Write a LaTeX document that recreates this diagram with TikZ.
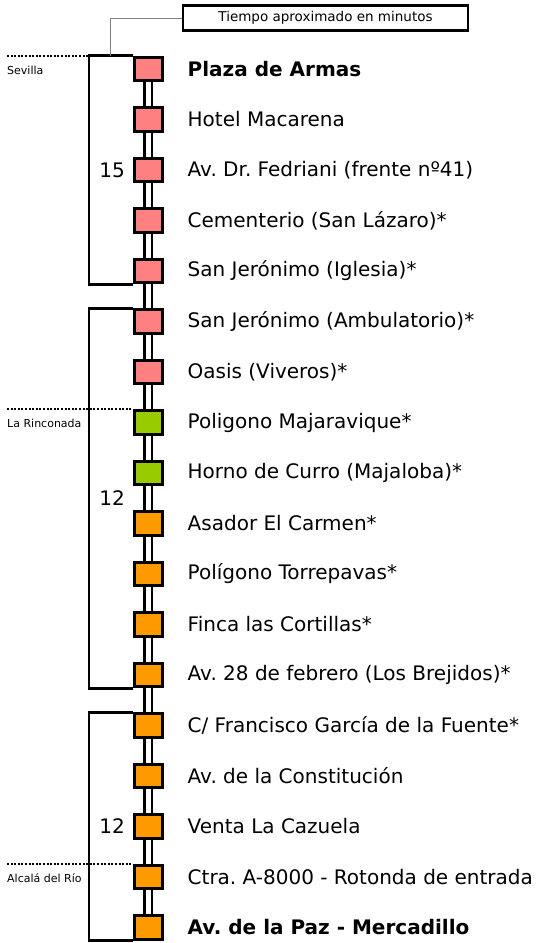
\documentclass[tikz,border=0pt]{standalone}
\usepackage{fontspec}
\setmainfont{DejaVu Sans}
\usetikzlibrary{calc}
\definecolor{stpink}{RGB}{255,128,128}
\definecolor{stgreen}{RGB}{153,204,0}
\definecolor{storange}{RGB}{255,153,0}
\frenchspacing
\begin{document}
\begin{tikzpicture}[x=1pt,y=-1pt,
  stop/.style={draw=black,line width=3pt,minimum width=28pt,minimum height=23.5pt,inner sep=0pt},
  ps/.style={stop,fill=stpink},
  gs/.style={stop,fill=stgreen},
  os/.style={stop,fill=storange},
  lbl/.style={anchor=west,inner sep=0pt,font=\fontsize{20}{24}\selectfont},
  blbl/.style={lbl,font=\fontsize{20}{24}\selectfont\bfseries},
  rail/.style={double distance=5pt,line width=2.2pt},
  bracket/.style={line width=2.8pt},
  dotline/.style={line width=2pt,dash pattern=on 2pt off 1.6pt},
  town/.style={anchor=west,inner sep=0pt,font=\fontsize{11}{13}\selectfont},
  mins/.style={anchor=east,inner sep=0pt,font=\fontsize{20}{24}\selectfont},
  leader/.style={draw=gray,line width=1pt}]
\useasboundingbox (0,0) rectangle (542,943);
% stops
\node[ps] (s0) at (148,69) {};
\node[ps] (s1) at (148,119.5) {};
\node[ps] (s2) at (148,170) {};
\node[ps] (s3) at (148,220.5) {};
\node[ps] (s4) at (148,271) {};
\node[ps] (s5) at (148,321.5) {};
\node[ps] (s6) at (148,372) {};
\node[gs] (s7) at (148,422.5) {};
\node[gs] (s8) at (148,473) {};
\node[os] (s9) at (148,523.5) {};
\node[os] (s10) at (148,574) {};
\node[os] (s11) at (148,624.5) {};
\node[os] (s12) at (148,675) {};
\node[os] (s13) at (148,725.5) {};
\node[os] (s14) at (148,776) {};
\node[os] (s15) at (148,826.5) {};
\node[os] (s16) at (148,877) {};
\node[os] (s17) at (148,927.5) {};
% rail connectors
\foreach \a/\b in {0/1,1/2,2/3,3/4,4/5,5/6,6/7,7/8,8/9,9/10,10/11,11/12,12/13,13/14,14/15,15/16,16/17}
  \draw[rail] (s\a.south) -- (s\b.north);
% labels
\node[blbl] (t0) at ([xshift=24pt]s0.east) {Plaza de Armas};
\node[lbl] (t1) at ([xshift=24pt]s1.east) {Hotel Macarena};
\node[lbl] (t2) at ([xshift=24pt]s2.east) {Av. Dr. Fedriani (frente nº41)};
\node[lbl] (t3) at ([xshift=24pt]s3.east) {Cementerio (San Lázaro)*};
\node[lbl] (t4) at ([xshift=24pt]s4.east) {San Jerónimo (Iglesia)*};
\node[lbl] (t5) at ([xshift=24pt]s5.east) {San Jerónimo (Ambulatorio)*};
\node[lbl] (t6) at ([xshift=24pt]s6.east) {Oasis (Viveros)*};
\node[lbl] (t7) at ([xshift=24pt]s7.east) {Poligono Majaravique*};
\node[lbl] (t8) at ([xshift=24pt]s8.east) {Horno de Curro (Majaloba)*};
\node[lbl] (t9) at ([xshift=24pt]s9.east) {Asador El Carmen*};
\node[lbl] (t10) at ([xshift=24pt]s10.east) {Polígono Torrepavas*};
\node[lbl] (t11) at ([xshift=24pt]s11.east) {Finca las Cortillas*};
\node[lbl] (t12) at ([xshift=24pt]s12.east) {Av. 28 de febrero (Los Brejidos)*};
\node[lbl] (t13) at ([xshift=24pt]s13.east) {C/ Francisco García de la Fuente*};
\node[lbl] (t14) at ([xshift=24pt]s14.east) {Av. de la Constitución};
\node[lbl] (t15) at ([xshift=24pt]s15.east) {Venta La Cazuela};
\node[lbl] (t16) at ([xshift=24pt]s16.east) {Ctra. A-8000 - Rotonda de entrada};
\node[blbl] (t17) at ([xshift=24pt]s17.east) {Av. de la Paz - Mercadillo};
% brackets
\coordinate (bx) at (89,0);
\draw[bracket] (s0.north west) -- (s0.north west -| bx) -- (s4.south west -| bx) -- (s4.south west);
\draw[bracket] (s5.north west) -- (s5.north west -| bx) -- (s12.south west -| bx) -- (s12.south west);
\draw[bracket] (s13.north west) -- (s13.north west -| bx) -- (s17.south west -| bx) -- (s17.south west);
% minutes
\coordinate (nx) at (125,0);
\node[mins] (m1) at (nx |- s2) {15};
\node[mins] (m2) at (nx |- {$(s8)!0.5!(s9)$}) {12};
\node[mins] (m3) at (nx |- s15) {12};
% town boundaries
\coordinate (lx) at (7,0);
\draw[dotline] (s0.north west -| lx) -- (s0.north west -| bx);
\draw[dotline] (s7.north west -| lx) -- (s7.north west);
\draw[dotline] (s16.north west -| lx) -- (s16.north west);
\node[town] (c1) at ([yshift=-15pt]s0.north west -| lx) {Sevilla};
\node[town] (c2) at ([yshift=-14pt]s7.north west -| lx) {La Rinconada};
\node[town] (c3) at ([yshift=-14pt]s16.north west -| lx) {Alcalá del Río};
% title
\node[draw=black,line width=2.2pt,minimum width=285pt,minimum height=25pt,inner sep=0pt,font=\fontsize{13.5}{15}\selectfont] (title) at (325.5,18) {Tiempo aproximado en minutos};
\coordinate (ldx) at (110,0);
\draw[leader] (title.west) -| (ldx |- s0.north);
\end{tikzpicture}
\end{document}
